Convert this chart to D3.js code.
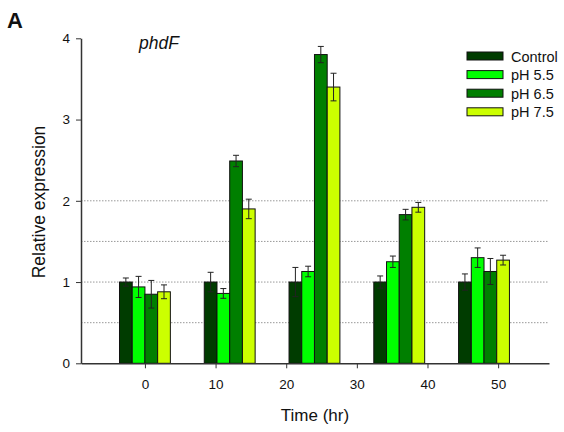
<!DOCTYPE html>
<html>
<head>
<meta charset="utf-8">
<script src="https://cdnjs.cloudflare.com/ajax/libs/d3/7.8.5/d3.min.js"></script>
<style>
body { margin: 0; background: #fff; }
text { font-family: Arial, "Liberation Sans", sans-serif; fill: #111; }
</style>
</head>
<body>
<script>
// sampling times (hr) and series
var times = [0, 12, 24, 36, 48]
var seriesNames = ["Control", "pH 5.5", "pH 6.5", "pH 7.5"]
var colors = ["#003c00", "#00ff00", "#007f00", "#ccff00"]

var control = [1.00, 1.00, 1.00, 1.00, 1.00]
var ph55 = [0.94, 0.86, 1.13, 1.25, 1.30]
var ph65 = [0.85, 2.49, 3.80, 1.83, 1.13]
var ph75 = [0.88, 1.90, 3.40, 1.92, 1.27]

var controlErr = [0.05, 0.12, 0.18, 0.075, 0.10]
var ph55Err = [0.13, 0.06, 0.065, 0.07, 0.12]
var ph65Err = [0.17, 0.07, 0.10, 0.065, 0.16]
var ph75Err = [0.085, 0.12, 0.17, 0.06, 0.06]

var xTicks = [0, 10, 20, 30, 40, 50]
var yTicks = [0, 1, 2, 3, 4]
var gridVals = [0.5, 1, 1.5, 2]

var values = [control, ph55, ph65, ph75]
var errors = [controlErr, ph55Err, ph65Err, ph75Err]

var W = 564, H = 432
var svg = d3.select("body").append("svg")
    .attr("width", W)
    .attr("height", H)

var x = d3.scaleLinear().domain([-9.05, 57.2]).range([81, 549])
var y = d3.scaleLinear().domain([0, 4]).range([363.3, 38.3])
var barW = 1.8  // hr

// dotted grid
svg.append("g").selectAll("line")
    .data(gridVals)
    .enter()
    .append("line")
    .attr("x1", x.range()[0])
    .attr("x2", x.range()[1])
    .attr("y1", function(d){return y(d)})
    .attr("y2", function(d){return y(d)})
    .attr("stroke", "#999")
    .attr("stroke-width", 1)
    .attr("stroke-dasharray", "1.5,1.5")

// bars
var rows = []
times.forEach(function(t, i){
    seriesNames.forEach(function(s, j){
        rows.push({t: t, j: j, v: values[j][i], e: errors[j][i]})
    })
})

function barX(d){ return x(d.t + (d.j - 2) * barW) }

svg.append("g").selectAll("rect")
    .data(rows)
    .enter()
    .append("rect")
    .attr("x", barX)
    .attr("y", function(d){return y(d.v)})
    .attr("width", function(d){return x(barW) - x(0)})
    .attr("height", function(d){return y(0) - y(d.v)})
    .attr("fill", function(d){return colors[d.j]})
    .attr("stroke", "#111")
    .attr("stroke-width", 1)

// error bars
var eb = svg.append("g").attr("stroke", "#222").attr("stroke-width", 1)
    .selectAll("g")
    .data(rows)
    .enter()
    .append("g")
    .attr("transform", function(d){return "translate(" + (barX(d) + (x(barW) - x(0)) / 2) + ",0)"})

eb.append("line")
    .attr("y1", function(d){return y(d.v + d.e)})
    .attr("y2", function(d){return y(d.v - d.e)})
eb.append("line")
    .attr("x1", -3).attr("x2", 3)
    .attr("y1", function(d){return y(d.v + d.e)})
    .attr("y2", function(d){return y(d.v + d.e)})
eb.append("line")
    .attr("x1", -3).attr("x2", 3)
    .attr("y1", function(d){return y(d.v - d.e)})
    .attr("y2", function(d){return y(d.v - d.e)})

// axes
var xAxis = svg.append("g")
    .attr("transform", "translate(0," + y(0) + ")")
    .call(d3.axisBottom(x).tickValues(xTicks).tickSize(5).tickPadding(11).tickSizeOuter(0))
var yAxis = svg.append("g")
    .attr("transform", "translate(" + x.range()[0] + ",0)")
    .call(d3.axisLeft(y).tickValues(yTicks).tickFormat(d3.format("d")).tickSize(5).tickPadding(6).tickSizeOuter(0))

;[xAxis, yAxis].forEach(function(a){
    a.select(".domain").attr("stroke", "#333").attr("stroke-width", 1.5)
    a.selectAll(".tick line").attr("stroke", "#333")
    a.selectAll(".tick text").attr("font-size", "13.5px").attr("fill", "#111")
        .attr("font-family", "Arial, 'Liberation Sans', sans-serif")
})

// titles
svg.append("text")
    .attr("x", 315)
    .attr("y", 421)
    .attr("text-anchor", "middle")
    .attr("font-size", "17px")
    .text("Time (hr)")

svg.append("text")
    .attr("transform", "translate(45,202) rotate(-90)")
    .attr("text-anchor", "middle")
    .attr("font-size", "17.5px")
    .text("Relative expression")

svg.append("text")
    .attr("x", 7)
    .attr("y", 28)
    .attr("font-size", "22px")
    .attr("font-weight", "bold")
    .text("A")

svg.append("text")
    .attr("x", 139)
    .attr("y", 49)
    .attr("font-size", "17.5px")
    .attr("font-style", "italic")
    .text("phdF")

// legend
var lg = svg.append("g").selectAll("g")
    .data(seriesNames)
    .enter()
    .append("g")
    .attr("transform", function(d,i){return "translate(467," + (56 + i * 18.6) + ")"})

lg.append("rect")
    .attr("x", 0)
    .attr("y", -4)
    .attr("width", 36)
    .attr("height", 8)
    .attr("fill", function(d,i){return colors[i]})
    .attr("stroke", "#111")

lg.append("text")
    .attr("x", 44)
    .attr("y", 5.5)
    .attr("font-size", "14.5px")
    .text(function(d){return d})
</script>
</body>
</html>
